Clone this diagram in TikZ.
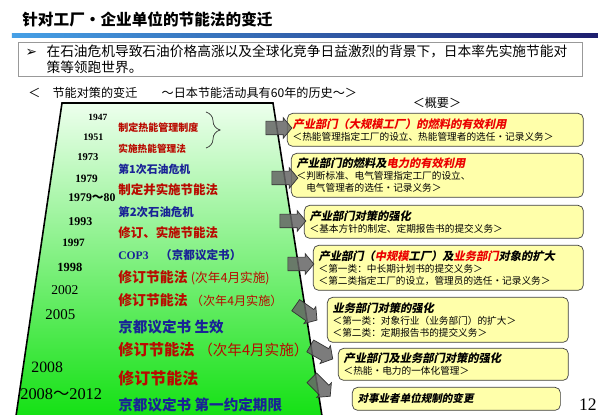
\documentclass[tikz,border=0pt]{standalone}
\usepackage{fontspec}
\usepackage{xcolor}
\usepackage{tikz}
\usetikzlibrary{shapes.arrows, decorations.pathreplacing}
\setmainfont{Liberation Serif}
\newfontfamily\cjk{Noto Sans CJK SC}
\newfontfamily\cjkit[FakeSlant=0.2]{Noto Sans CJK SC}
\newfontfamily\symfont{DejaVu Sans}
\newcommand{\setfs}[1]{\fontsize{#1}{#1}\selectfont}
\newcommand{\hd}{\cjkit\bfseries\fontsize{6.4}{6.4}\selectfont}

\begin{document}
\begin{tikzpicture}[x=0.02cm, y=-0.02cm,
    evt/.style={anchor=west, inner sep=0pt, font=\cjk\bfseries},
    yr/.style={anchor=west, inner sep=0pt},
    ybox/.style={anchor=north west, draw=black!75, fill=boxfill, rounded corners=3pt,
        align=left, inner xsep=3pt, inner ysep=0pt, font=\cjk\fontsize{5.5}{6.9}\selectfont},
    blkarrow/.style={single arrow, draw=black!80, fill=black!60, fill opacity=0.85,
        inner sep=0pt, minimum height=0.52cm, single arrow head extend=0.07cm,
        single arrow tip angle=100}]
    % --- LAPISAN 0: WARNA DAN BATAS GAMBAR ---
    \definecolor{boxfill}{RGB}{255,255,170}
    \definecolor{tbarL}{RGB}{70,160,230}
    \definecolor{tbarR}{RGB}{30,30,110}
    \definecolor{evred}{RGB}{185,10,0}
    \definecolor{evblue}{RGB}{25,35,150}
    \definecolor{hdred}{RGB}{235,0,0}
    \definecolor{grnBot}{RGB}{20,225,20}
    \fill[white] (0,0) rectangle (600,415);
    \useasboundingbox (0,0) rectangle (600,415);

    % --- LAPISAN 1: JUDUL DAN GARIS ---
    \node[anchor=west, inner sep=0pt, font=\cjk\bfseries\setfs{8.9}] (title) at (22,19) {针对工厂・企业单位的节能法的变迁};
    \begin{scope}
        \shade[left color=tbarL, right color=tbarR] (12,33.5) rectangle (598,37.5);
    \end{scope}

    % --- LAPISAN 2: KOTAK LATAR BELAKANG ---
    \node[anchor=north west, draw=gray!80, line width=0.7pt, align=left, inner xsep=4pt, inner ysep=0pt,
        text width=11.0cm, minimum height=0.68cm, font=\cjk\fontsize{7.8}{9.1}\selectfont] (intro) at (18,42)
        {\makebox[11.9pt][l]{\symfont ➢}在石油危机导致石油价格高涨以及全球化竞争日益激烈的背景下，日本率先实施节能对\\
         \hspace*{11.9pt}策等领跑世界。};

    \node[anchor=west, inner sep=0pt, font=\cjk\setfs{6.9}] (sub) at (28,93) {＜　节能对策的变迁　　～日本节能活动具有60年的历史～＞};
    \node[inner sep=0pt, font=\cjk\setfs{6.9}] (gaiyo) at (437,103) {＜概要＞};

    % --- LAPISAN 3: TRAPESIUM HIJAU ---
    \begin{scope}
        \shade[top color=green!7, middle color=green!28, bottom color=grnBot]
            (62,103) -- (273,103) -- (322,416) -- (16,416) -- cycle;
    \end{scope}

    % --- LAPISAN 4: TAHUN ---
    \node[yr] (y1947) at (88,117) {\bfseries\setfs{5.4}1947};
    \node[yr] (y1951) at (83,137) {\bfseries\setfs{5.7}1951};
    \node[yr] (y1973) at (77,157) {\bfseries\setfs{6}1973};
    \node[yr] (y1979) at (75,179) {\bfseries\setfs{6.4}1979};
    \node[yr] (y1980) at (68,198) {\bfseries\setfs{6.7}1979{\cjk ～}80};
    \node[yr] (y1993) at (68,222) {\bfseries\setfs{6.8}1993};
    \node[yr] (y1997) at (62,243) {\bfseries\setfs{6.4}1997};
    \node[yr] (y1998) at (57,267) {\bfseries\setfs{7.1}1998};
    \node[yr] (y2002) at (51,290) {\setfs{7.7}2002};
    \node[yr] (y2005) at (45,315) {\setfs{8.5}2005};
    \node[yr] (y2008) at (31,367) {\setfs{9}2008};
    \node[yr] (y2012) at (20,394) {\setfs{9.3}2008{\cjk ～}2012};

    % --- LAPISAN 5: PERISTIWA ---
    \node[evt, text=evred] (e1) at (118,128) {\setfs{5.7}制定热能管理制度};
    \node[evt, text=evred] (e2) at (118,149) {\setfs{5.5}实施热能管理法};
    \node[evt, text=evblue] (e3) at (118,169) {\setfs{6.2}第1次石油危机};
    \node[evt, text=evred] (e4) at (118,190) {\setfs{7.1}制定并实施节能法};
    \node[evt, text=evblue] (e5) at (118,212) {\setfs{6.5}第2次石油危机};
    \node[evt, text=evred] (e6) at (118,233) {\setfs{7.1}修订、实施节能法};
    \node[evt, text=evblue] (e7) at (118,255) {\setfs{6.6}{\rmfamily COP3}　（京都议定书）};
    \node[evt, text=evred] (e8) at (118,278) {\setfs{7.9}修订节能法 {\mdseries\setfs{7.2}(次年4月实施)}};
    \node[evt, text=evred] (e9) at (118,300) {\setfs{7.9}修订节能法 {\mdseries\setfs{6.9}（次年4月实施）}};
    \node[evt, text=evblue] (e10) at (118,327) {\setfs{8.3}京都议定书 生效};
    \node[evt, text=evred] (e11) at (118,350) {\setfs{8.7}修订节能法 {\mdseries\setfs{8.3}（次年4月实施）}};
    \node[evt, text=evred] (e12) at (118,378) {\setfs{9.1}修订节能法};
    \node[evt, text=evblue] (e13) at (118,405) {\setfs{8.3}京都议定书 第一约定期限};

    % kurung kurawal untuk 1947/1951
    \coordinate (brTop) at (206,112);
    \coordinate (brBot) at (206,148);
    \draw[black!80, decorate, decoration={brace, amplitude=8pt}] (brTop) -- (brBot);

    % --- LAPISAN 6: KOTAK RINGKASAN ---
    \node[ybox, text width=5.71cm, minimum height=0.66cm] (b1) at (287,113)
        {{\hd\color{hdred}产业部门（大规模工厂）的燃料的有效利用}\\＜热能管理指定工厂的设立、热能管理者的选任・记录义务＞};
    \node[ybox, text width=5.63cm, minimum height=0.88cm] (b2) at (291,153)
        {{\hd 产业部门的燃料及{\color{hdred}电力的有效利用}}\\＜判断标准、电气管理指定工厂的设立、\\　电气管理者的选任・记录义务＞};
    \node[ybox, text width=5.37cm, minimum height=0.66cm] (b3) at (304,205)
        {{\hd 产业部门对策的强化}\\＜基本方针的制定、定期报告书的提交义务＞};
    \node[ybox, text width=5.19cm, minimum height=0.90cm] (b4) at (313,245)
        {{\hd 产业部门（{\color{hdred}中规模}工厂）及{\color{hdred}业务部门}对象的扩大}\\＜第一类：中长期计划书的提交义务＞\\＜第二类指定工厂的设立，管理员的选任・记录义务＞};
    \node[ybox, text width=4.61cm, minimum height=0.90cm] (b5) at (327,297)
        {{\hd 业务部门对策的强化}\\＜第一类：对象行业（业务部门）的扩大＞\\＜第二类：定期报告书的提交义务＞};
    \node[ybox, text width=4.39cm, minimum height=0.64cm] (b6) at (338,348)
        {{\hd 产业部门及业务部门对策的强化}\\＜热能・电力的一体化管理＞};
    \node[ybox, text width=3.95cm, minimum height=0.46cm] (b7) at (352,387)
        {{\hd\setfs{6}对事业者单位规制的变更}};

    % --- LAPISAN 7: GARIS TEPI TRAPESIUM ---
    \draw[black, line width=0.9pt] (16,416) -- (62,103) -- (273,103) -- (322,416);

    % --- LAPISAN 8: PANAH ABU-ABU ---
    \node[blkarrow] (a1) at (276,128) {\rule{0pt}{0.26cm}};
    \node[blkarrow] (a2) at (282,178) {\rule{0pt}{0.26cm}};
    \node[blkarrow] (a3) at (290,221) {\rule{0pt}{0.26cm}};
    \node[blkarrow] (a4) at (298,264) {\rule{0pt}{0.26cm}};
    \node[blkarrow, rotate=-35] (a5) at (304,311) {\rule{0pt}{0.26cm}};
    \node[blkarrow, rotate=-30] (a6) at (319,351) {\rule{0pt}{0.26cm}};
    \node[blkarrow, rotate=-45] (a7) at (319,385) {\rule{0pt}{0.26cm}};

    % nomor halaman
    \node[inner sep=0pt] (page) at (588,405) {\setfs{10}12};
\end{tikzpicture}
\end{document}
